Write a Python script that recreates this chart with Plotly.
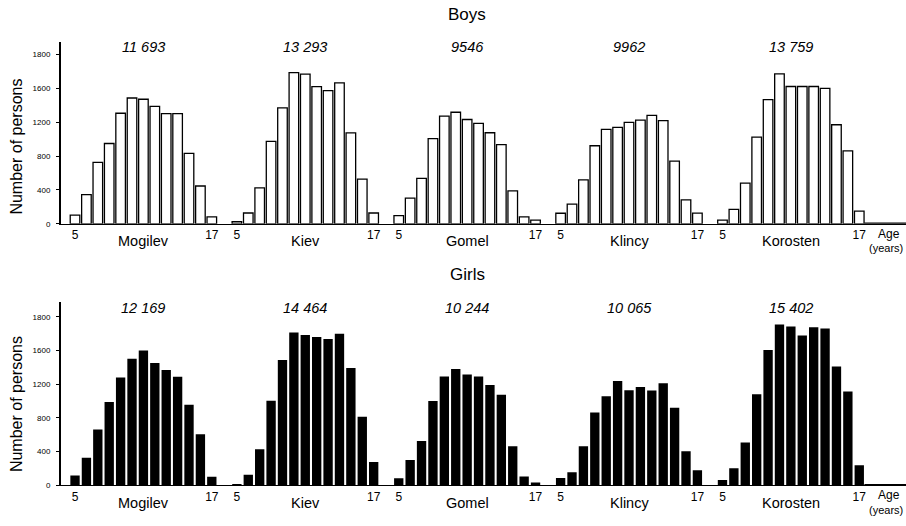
import plotly.graph_objects as go

# ---------------- data ----------------
cities = ["Mogilev", "Kiev", "Gomel", "Klincy", "Korosten"]
ages = list(range(5, 18))

boys_totals = ["11 693", "13 293", "9546", "9962", "13 759"]
girls_totals = ["12 169", "14 464", "10 244", "10 065", "15 402"]

boys_mogilev = [102, 345, 725, 949, 1306, 1486, 1471, 1388, 1302, 1302, 831, 447, 82]
boys_kiev = [25, 128, 425, 975, 1370, 1785, 1768, 1620, 1572, 1665, 1075, 528, 128]
boys_gomel = [98, 304, 538, 1006, 1271, 1318, 1232, 1186, 1076, 936, 390, 82, 43]
boys_klincy = [125, 232, 520, 922, 1116, 1140, 1198, 1225, 1280, 1218, 740, 282, 126]
boys_korosten = [45, 170, 480, 1025, 1466, 1770, 1622, 1622, 1622, 1600, 1170, 862, 150]

girls_mogilev = [117, 327, 662, 989, 1281, 1503, 1600, 1453, 1371, 1289, 958, 608, 101]
girls_kiev = [16, 125, 429, 1005, 1488, 1815, 1784, 1761, 1737, 1800, 1394, 814, 277]
girls_gomel = [85, 300, 526, 1001, 1293, 1383, 1316, 1293, 1192, 1075, 463, 105, 35]
girls_klincy = [86, 156, 463, 864, 1059, 1238, 1129, 1168, 1125, 1211, 922, 405, 179]
girls_korosten = [62, 202, 510, 1082, 1608, 1910, 1885, 1780, 1878, 1862, 1410, 1115, 240]

boys = [boys_mogilev, boys_kiev, boys_gomel, boys_klincy, boys_korosten]
girls = [girls_mogilev, girls_kiev, girls_gomel, girls_klincy, girls_korosten]

y_tickvals = [0, 400, 800, 1200, 1600, 2000]
y_ticktext = ["0", "400", "800", "1200", "1600", "1800"]

# ---------------- layout constants ----------------
W, H = 906, 526
GROUP_STEP = 14.2
X_RANGE = [-1.23, 72.9]
narrow = "Liberation Sans Narrow, Arial Narrow, Arial, Liberation Sans, sans-serif"
sans = "Arial, Liberation Sans, Helvetica, sans-serif"

def px_to_paper_y(px):
    return 1 - px / H

fig = go.Figure()

def xpos(g):
    return [g * GROUP_STEP + (a - ages[0]) for a in ages]

for g, vals in enumerate(boys):
    fig.add_trace(go.Bar(
        x=xpos(g), y=vals, xaxis="x", yaxis="y", width=0.84,
        marker=dict(color="white", line=dict(color="black", width=1.3)),
        showlegend=False, hoverinfo="skip"))

for g, vals in enumerate(girls):
    fig.add_trace(go.Bar(
        x=xpos(g), y=vals, xaxis="x2", yaxis="y2", width=0.82,
        marker=dict(color="black", line=dict(color="black", width=0)),
        showlegend=False, hoverinfo="skip"))

tickvals_x = []
ticktext_x = []
for g in range(len(cities)):
    tickvals_x += [g * GROUP_STEP, g * GROUP_STEP + (ages[-1] - ages[0])]
    ticktext_x += [str(ages[0]), str(ages[-1])]

xaxis_common = dict(range=X_RANGE, showline=True, linecolor="black", linewidth=1,
                    showgrid=False, zeroline=False, ticks="", tickvals=tickvals_x,
                    ticktext=ticktext_x, tickfont=dict(family=sans, size=12, color="black"),
                    domain=[61 / W, 1])
yaxis_common = dict(showline=True, linecolor="black", linewidth=2, showgrid=False,
                    zeroline=False, ticks="outside", ticklen=3, tickwidth=1, tickcolor="black",
                    tickvals=y_tickvals, ticktext=y_ticktext,
                    tickfont=dict(family=sans, size=8, color="black"),
                    ticklabelstandoff=4)

fig.update_layout(
    width=W, height=H, margin=dict(l=0, r=0, t=0, b=0),
    paper_bgcolor="white", plot_bgcolor="white", barmode="overlay",
    xaxis=dict(xaxis_common, anchor="y"),
    xaxis2=dict(xaxis_common, anchor="y2"),
    yaxis=dict(yaxis_common, anchor="x", range=[0, 2152],
               domain=[px_to_paper_y(226), px_to_paper_y(42)]),
    yaxis2=dict(yaxis_common, anchor="x2", range=[0, 2176],
                domain=[px_to_paper_y(490), px_to_paper_y(305)]),
)

anns = []
panels = [("x", "y", boys_totals, "Boys", 15, 47, 148.5),
          ("x2", "y2", girls_totals, "Girls", 277, 311, 408.5)]
for xr, yr, totals, title, title_px, tot_px, ytitle_px in panels:
    center_mid = 2 * GROUP_STEP + (ages[-1] - ages[0]) / 2
    anns.append(dict(text=title, xref=xr, x=center_mid, yref="paper",
                     y=px_to_paper_y(title_px), xanchor="center", yanchor="middle",
                     showarrow=False, font=dict(family=sans, size=17, color="black")))
    anns.append(dict(text="Number of persons", xref="paper", x=16.5 / W, yref="paper",
                     y=px_to_paper_y(ytitle_px), xanchor="center", yanchor="middle",
                     textangle=-90, showarrow=False,
                     font=dict(family=sans, size=16, color="black")))
    for g, city in enumerate(cities):
        cx = g * GROUP_STEP + (ages[-1] - ages[0]) / 2
        anns.append(dict(text=totals[g], xref=xr, x=cx, yref="paper",
                         y=px_to_paper_y(tot_px), xanchor="center", yanchor="middle",
                         showarrow=False,
                         font=dict(family=sans, size=14.5, color="black",
                                   style="italic")))
        anns.append(dict(text=city, xref=xr, x=cx, yref=yr, y=0, xanchor="center",
                         yanchor="middle", yshift=-17.5, showarrow=False,
                         font=dict(family=sans, size=14.5, color="black")))
    anns.append(dict(text="Age", xref="paper", x=889 / W, yref=yr, y=0,
                     xanchor="center", yanchor="middle", yshift=-10, showarrow=False,
                     font=dict(family=narrow, size=12, color="black")))
    anns.append(dict(text="(years)", xref="paper", x=905 / W, yref=yr, y=0,
                     xanchor="right", yanchor="middle", yshift=-24.5, showarrow=False,
                     font=dict(family=narrow, size=11, color="black")))

fig.update_layout(annotations=anns)

# thicker baseline to the right of the last group
last_end = (len(cities) - 1) * GROUP_STEP + (ages[-1] - ages[0]) + 0.45
for xr, yr in [("x", "y"), ("x2", "y2")]:
    fig.add_shape(type="line", xref=xr, yref=yr, x0=last_end, x1=X_RANGE[1],
                  y0=0, y1=0, line=dict(color="black", width=2.5))

fig.write_html("out.html")
